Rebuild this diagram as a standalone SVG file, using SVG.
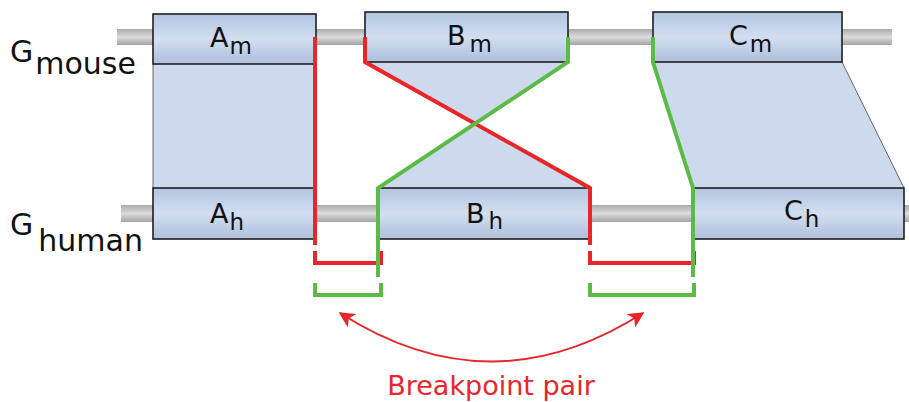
<svg xmlns="http://www.w3.org/2000/svg" width="909" height="402" viewBox="0 0 909 402">
<defs>
<linearGradient id="gBox" x1="0" y1="0" x2="0" y2="1">
<stop offset="0" stop-color="#b2c5e2"/>
<stop offset="0.5" stop-color="#d2def0"/>
<stop offset="1" stop-color="#aebfdc"/>
</linearGradient>
<linearGradient id="gBar" x1="0" y1="0" x2="0" y2="1">
<stop offset="0" stop-color="#a9a9a9"/>
<stop offset="0.5" stop-color="#dcdcdc"/>
<stop offset="1" stop-color="#a4a4a4"/>
</linearGradient>
<marker id="ah" viewBox="0 0 10 10" refX="9" refY="5" markerWidth="8" markerHeight="8" orient="auto-start-reverse" markerUnits="strokeWidth">
<path d="M0 0 L10 5 L0 10 L2.5 5 Z" fill="#e8262a"/>
</marker>
</defs>
<style>
.bar{fill:url(#gBar)}
.box{fill:url(#gBox);stroke:#1e1e1e;stroke-width:1.6}
.band{fill:#cddaee}
.edge{stroke:#666;stroke-width:1;fill:none}
.lbl{font-family:"DejaVu Sans",sans-serif;font-size:27px;fill:#111}
.sub{font-size:23px}
.gname{font-family:"DejaVu Sans",sans-serif;font-size:30px;fill:#111}
.gsub{font-size:30px}
.red{stroke:#e8262a;stroke-width:4;fill:none}
.green{stroke:#5cba47;stroke-width:4;fill:none}
</style>
<g id="tracks">
<rect class="bar" x="117" y="29" width="775" height="16"/>
<rect class="bar" x="121" y="205" width="788" height="17"/>
</g>
<g id="synteny">
<rect class="band" x="153" y="64" width="163" height="124"/>
<line class="edge" x1="153" y1="64" x2="153" y2="188"/>
<polygon class="band" points="365,62 568,62 473,125"/>
<polygon class="band" points="473,125 378,188 590,188"/>
<polygon class="band" points="653,62 842,62 904,188 693,188"/>
<line class="edge" x1="842" y1="62" x2="904" y2="188"/>
</g>
<g id="Am">
<rect class="box" x="153" y="14" width="163" height="50"/>
<text class="lbl" x="210" y="47">A<tspan class="sub" dx="1" dy="7">m</tspan></text>
</g>
<g id="Bm">
<rect class="box" x="365" y="12" width="203" height="50"/>
<text class="lbl" x="447" y="45">B<tspan class="sub" dx="4" dy="7">m</tspan></text>
</g>
<g id="Cm">
<rect class="box" x="653" y="12" width="189" height="50"/>
<text class="lbl" x="729" y="45">C<tspan class="sub" dx="2" dy="7">m</tspan></text>
</g>
<g id="Ah">
<rect class="box" x="153" y="188" width="161" height="51"/>
<text class="lbl" x="210" y="223">A<tspan class="sub" dx="1" dy="7">h</tspan></text>
</g>
<g id="Bh">
<rect class="box" x="378" y="188" width="212" height="51"/>
<text class="lbl" x="466" y="223">B<tspan class="sub" dx="4" dy="6">h</tspan></text>
</g>
<g id="Ch">
<rect class="box" x="693" y="188" width="211" height="51"/>
<text class="lbl" x="784" y="220">C<tspan class="sub" dx="2" dy="7">h</tspan></text>
</g>
<g id="Gmouse">
<text class="gname" x="10" y="62">G<tspan class="gsub" dx="2" dy="12">mouse</tspan></text>
</g>
<g id="Ghuman">
<text class="gname" x="10" y="235">G<tspan class="gsub" dx="5" dy="16">human</tspan></text>
</g>
<g id="connectors">
<path class="red" d="M315 37 V245"/>
<path class="red" d="M315 251 V263 H381 V251"/>
<path class="red" d="M365 37 V62 L590 188 V245"/>
<path class="red" d="M590 251 V263 H694 V251"/>
<path class="green" d="M568 37 V62 L378 188 V277"/>
<path class="green" d="M315 283 V295 H381 V283"/>
<path class="green" d="M653 37 V62 L693 188 V277"/>
<path class="green" d="M590 283 V295 H694 V283"/>
<path d="M340 313 Q491 410 643 313" stroke="#e8262a" stroke-width="2" fill="none" marker-start="url(#ah)" marker-end="url(#ah)"/>
</g>
<text x="491" y="395" text-anchor="middle" font-family="DejaVu Sans, sans-serif" font-size="27" fill="#e8262a">Breakpoint pair</text>
</svg>
